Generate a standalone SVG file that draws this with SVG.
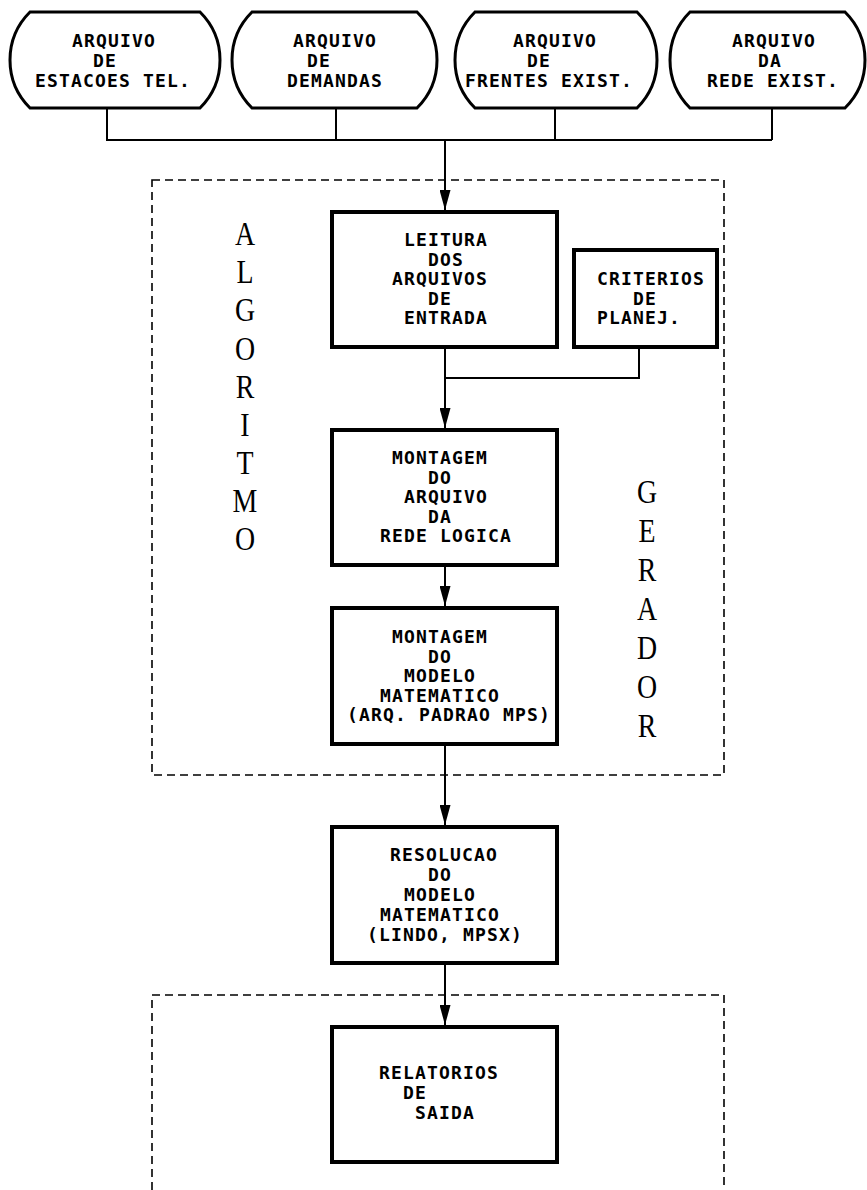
<svg xmlns="http://www.w3.org/2000/svg" width="867" height="1190" viewBox="0 0 867 1190">
<defs>
<style>
.t{font-family:"DejaVu Sans Mono","Liberation Mono",monospace;font-weight:bold;font-size:18px;letter-spacing:1.16px;fill:#000}
.big{font-family:"Liberation Serif","DejaVu Serif",serif;font-size:34px;fill:#000;text-anchor:middle}
.term{fill:#fff;stroke:#000;stroke-width:3}
.box{fill:#fff;stroke:#000;stroke-width:4}
.dash{fill:none;stroke:#000;stroke-width:1.6;stroke-dasharray:8 5}
.ln{fill:none;stroke:#000;stroke-width:2}
</style>
<marker id="ah" viewBox="0 0 20 11" refX="20" refY="5.5" markerWidth="20" markerHeight="11" markerUnits="userSpaceOnUse" orient="auto">
<path d="M0,0 L20,5.5 L0,11 Z" fill="#000"/>
</marker>
</defs>
<rect width="867" height="1190" fill="#fff"/>

<g id="groups">
<path class="dash" d="M152,180 H724 V775 H152 Z"/>
<path class="dash" d="M152,1190 V995 H724 V1190"/>
</g>

<g id="connectors">
<path class="ln" d="M107,108 V140 H772 M336,108 V140 M555,108 V140 M772,108 V140"/>
<path class="ln" d="M445,140 V210" marker-end="url(#ah)"/>
<path class="ln" d="M639,347 V378 H445"/>
<path class="ln" d="M445,347 V428" marker-end="url(#ah)"/>
<path class="ln" d="M445,565 V606" marker-end="url(#ah)"/>
<path class="ln" d="M445,745 V825" marker-end="url(#ah)"/>
<path class="ln" d="M445,963 V1025" marker-end="url(#ah)"/>
</g>

<g id="n-estacoes">
<path class="term" d="M30,12 H200 A67.6,67.6 0 0 1 200,108 H30 A67.6,67.6 0 0 1 30,12 Z"/>
<text class="t" x="72" y="47">ARQUIVO</text>
<text class="t" x="93" y="67">DE</text>
<text class="t" x="35" y="87">ESTACOES TEL.</text>
</g>
<g id="n-demandas">
<path class="term" d="M252,12 H417 A67.6,67.6 0 0 1 417,108 H252 A67.6,67.6 0 0 1 252,12 Z"/>
<text class="t" x="293" y="47">ARQUIVO</text>
<text class="t" x="307" y="67">DE</text>
<text class="t" x="287" y="87">DEMANDAS</text>
</g>
<g id="n-frentes">
<path class="term" d="M475,12 H637 A67.6,67.6 0 0 1 637,108 H475 A67.6,67.6 0 0 1 475,12 Z"/>
<text class="t" x="513" y="47">ARQUIVO</text>
<text class="t" x="527" y="67">DE</text>
<text class="t" x="465" y="87">FRENTES EXIST.</text>
</g>
<g id="n-rede">
<path class="term" d="M690,12 H845 A67.6,67.6 0 0 1 845,108 H690 A67.6,67.6 0 0 1 690,12 Z"/>
<text class="t" x="732" y="47">ARQUIVO</text>
<text class="t" x="758" y="67">DA</text>
<text class="t" x="707" y="87">REDE EXIST.</text>
</g>

<g id="n-leitura">
<rect class="box" x="332" y="212" width="225" height="135"/>
<text class="t" x="404" y="246">LEITURA</text>
<text class="t" x="428" y="266">DOS</text>
<text class="t" x="392" y="285">ARQUIVOS</text>
<text class="t" x="428" y="305">DE</text>
<text class="t" x="404" y="324">ENTRADA</text>
</g>
<g id="n-criterios">
<rect class="box" x="574" y="250" width="143" height="97"/>
<text class="t" x="597" y="285">CRITERIOS</text>
<text class="t" x="633" y="305">DE</text>
<text class="t" x="597" y="324">PLANEJ.</text>
</g>
<g id="n-montagem-rede">
<rect class="box" x="332" y="430" width="225" height="135"/>
<text class="t" x="392" y="464">MONTAGEM</text>
<text class="t" x="428" y="484">DO</text>
<text class="t" x="404" y="503">ARQUIVO</text>
<text class="t" x="428" y="523">DA</text>
<text class="t" x="380" y="542">REDE LOGICA</text>
</g>
<g id="n-montagem-modelo">
<rect class="box" x="332" y="608" width="225" height="136"/>
<text class="t" x="392" y="643">MONTAGEM</text>
<text class="t" x="428" y="663">DO</text>
<text class="t" x="404" y="682">MODELO</text>
<text class="t" x="380" y="702">MATEMATICO</text>
<text class="t" x="347" y="721">(ARQ. PADRAO MPS)</text>
</g>
<g id="n-resolucao">
<rect class="box" x="332" y="827" width="225" height="136"/>
<text class="t" x="390" y="861">RESOLUCAO</text>
<text class="t" x="428" y="881">DO</text>
<text class="t" x="404" y="901">MODELO</text>
<text class="t" x="380" y="921">MATEMATICO</text>
<text class="t" x="367" y="941">(LINDO, MPSX)</text>
</g>
<g id="n-relatorios">
<rect class="box" x="332" y="1027" width="225" height="135"/>
<text class="t" x="379" y="1079">RELATORIOS</text>
<text class="t" x="403" y="1099">DE</text>
<text class="t" x="415" y="1119">SAIDA</text>
</g>

<g id="label-algoritmo" class="big" transform="translate(245,0) scale(0.82,1)">
<text x="0" y="245">A</text>
<text x="0" y="283">L</text>
<text x="0" y="321">G</text>
<text x="0" y="360">O</text>
<text x="0" y="398">R</text>
<text x="0" y="436">I</text>
<text x="0" y="474">T</text>
<text x="0" y="512">M</text>
<text x="0" y="550">O</text>
</g>
<g id="label-gerador" class="big" transform="translate(647,0) scale(0.82,1)">
<text x="0" y="503">G</text>
<text x="0" y="542">E</text>
<text x="0" y="581">R</text>
<text x="0" y="620">A</text>
<text x="0" y="659">D</text>
<text x="0" y="698">O</text>
<text x="0" y="737">R</text>
</g>
</svg>
